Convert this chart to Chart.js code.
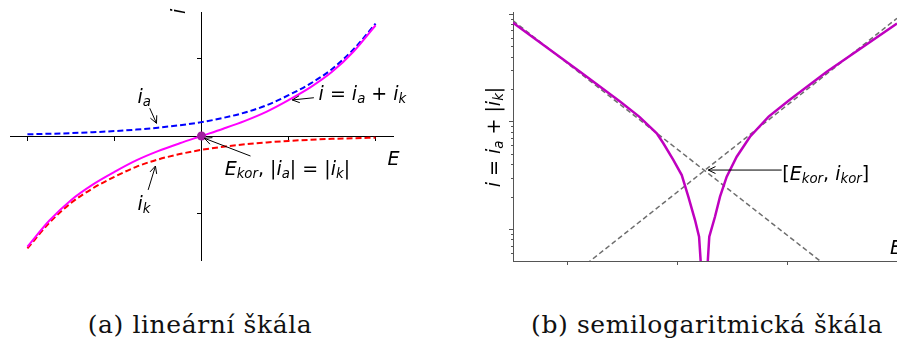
<!DOCTYPE html>
<html>
<head>
<meta charset="utf-8">
<script src="https://cdn.jsdelivr.net/npm/chart.js@4.4.1/dist/chart.umd.min.js"></script>
<style>
body { margin:0; background:#fff; width:897px; height:349px; position:relative; overflow:hidden; }
canvas { position:absolute; top:0; }
#linChart { left:0; }
#logChart { left:460px; }
.caption { position:absolute; top:312px; font-family:"DejaVu Serif"; font-size:25px; line-height:25px; letter-spacing:0.6px; color:#111; white-space:nowrap; text-align:center; }
</style>
</head>
<body>
<canvas id="linChart" width="440" height="300"></canvas>
<canvas id="logChart" width="437" height="300"></canvas>
<div class="caption" style="left:0;width:400px">(a) lineární škála</div>
<div class="caption" style="left:507px;width:400px">(b) semilogaritmická škála</div>
<script>
// (a) lineární škála
const linE = [-2, -1.75, -1.5, -1.25, -1, -0.75, -0.5, -0.25, 0, 0.25, 0.5, 0.75, 1, 1.25, 1.5, 1.75, 2]
const iAnodic = [0.022, 0.029, 0.037, 0.049, 0.064, 0.083, 0.108, 0.14, 0.18, 0.235, 0.305, 0.40, 0.53, 0.68, 0.87, 1.13, 1.46]
const iCathodic = [-1.46, -1.13, -0.87, -0.68, -0.53, -0.40, -0.305, -0.235, -0.18, -0.14, -0.108, -0.083, -0.064, -0.049, -0.037, -0.029, -0.022]
const iTotal = [-1.438, -1.101, -0.833, -0.631, -0.466, -0.317, -0.197, -0.095, 0, 0.095, 0.197, 0.317, 0.466, 0.631, 0.833, 1.101, 1.438]
const linXTicks = [-2, -1, 0, 1, 2]
const linYTicks = [-1, 0, 1]

// (b) semilogaritmická škála
const logELeft = [0, 0.611, 0.975, 1.15, 1.31, 1.37, 1.461, 1.538, 1.598, 1.659, 1.696, 1.711]
const logILeft = [0.835, 0.293, 0.155, 0.112, 0.0783, 0.0633, 0.0443, 0.0321, 0.0202, 0.01225, 0.00857, 0.005]
const logERight = [1.775, 1.789, 1.841, 1.887, 1.948, 2.039, 2.16, 2.33, 2.52, 2.86, 3.5]
const logIRight = [0.005, 0.00857, 0.01315, 0.0202, 0.031, 0.0475, 0.0728, 0.112, 0.16, 0.292, 0.82]
const tafelCathE = [0, 3.0]
const tafelCathI = [0.872, 0.00353]
const tafelAnE = [0.5, 3.5]
const tafelAnI = [0.0035, 0.918]
const logXTicks = [0.5, 1.5, 2.5, 3.5]
const logYMajor = [0.01, 0.1, 1]
const logYMinor = [0.006, 0.007, 0.008, 0.009, 0.02, 0.03, 0.04, 0.05, 0.06, 0.07, 0.08, 0.09, 0.2, 0.3, 0.4, 0.5, 0.6, 0.7, 0.8, 0.9]

const FS = 19

const pts = (xs, ys) => xs.map((x, i) => ({x: x, y: ys[i]}))
const setTicks = arr => s => { s.ticks = arr.map(v => ({value: v})) }

function drawMath(ctx, parts, x, y, size) {
	let cx = x
	for (const [t, st] of parts) {
		const fs = st === 'sub' ? size * 0.7 : size
		ctx.font = (st === 'rm' ? '' : 'italic ') + fs + 'px "DejaVu Sans"'
		ctx.fillText(t, cx, st === 'sub' ? y + size * 0.15 : y)
		cx += ctx.measureText(t).width
	}
	return cx - x
}
function mathWidth(ctx, parts, size) {
	let w = 0
	for (const [t, st] of parts) {
		const fs = st === 'sub' ? size * 0.7 : size
		ctx.font = (st === 'rm' ? '' : 'italic ') + fs + 'px "DejaVu Sans"'
		w += ctx.measureText(t).width
	}
	return w
}
function arrow(ctx, x1, y1, x2, y2) {
	const a = Math.atan2(y2 - y1, x2 - x1), h = 8, w = 0.45
	ctx.beginPath()
	ctx.moveTo(x1, y1); ctx.lineTo(x2, y2)
	ctx.moveTo(x2 - h * Math.cos(a - w), y2 - h * Math.sin(a - w))
	ctx.lineTo(x2, y2)
	ctx.lineTo(x2 - h * Math.cos(a + w), y2 - h * Math.sin(a + w))
	ctx.stroke()
}

// labels: text anchored at data coords (left, baseline), arrows from/to data coords
function labelPlugin(texts, arrows, rotated) {
	return {
		id: 'labels',
		afterDraw(chart) {
			const ctx = chart.ctx, sx = chart.scales.x, sy = chart.scales.y
			ctx.save()
			ctx.fillStyle = '#000'; ctx.strokeStyle = '#000'; ctx.lineWidth = 1
			ctx.textBaseline = 'alphabetic'; ctx.textAlign = 'left'
			texts.forEach(t => drawMath(ctx, t.parts, sx.getPixelForValue(t.x), sy.getPixelForValue(t.y), FS))
			arrows.forEach(a => arrow(ctx, sx.getPixelForValue(a[0]), sy.getPixelForValue(a[1]), sx.getPixelForValue(a[2]), sy.getPixelForValue(a[3])))
			rotated.forEach(t => {
				ctx.save()
				ctx.translate(sx.getPixelForValue(t.x), sy.getPixelForValue(t.y))
				ctx.rotate(-Math.PI / 2)
				const w = mathWidth(ctx, t.parts, FS)
				drawMath(ctx, t.parts, -w / 2, 6, FS)
				ctx.restore()
			})
			ctx.restore()
		}
	}
}

const axisStyle = (col, len) => ({ drawOnChartArea: false, tickLength: len, color: col, lineWidth: 1 })

let ctx1 = document.getElementById('linChart').getContext('2d')
var linChart = new Chart(ctx1, {
	type: 'line',
	data: {
		datasets: [{
			data: [{x: 0, y: 0}],
			showLine: false,
			pointRadius: 4.5,
			pointBackgroundColor: '#a0209f',
			pointBorderWidth: 0
		}, {
			data: pts(linE, iTotal),
			borderColor: '#ff00ff',
			borderWidth: 2,
			pointRadius: 0,
			cubicInterpolationMode: 'monotone'
		}, {
			data: pts(linE, iAnodic),
			borderColor: '#0000ff',
			borderWidth: 2,
			borderDash: [6, 3],
			pointRadius: 0,
			cubicInterpolationMode: 'monotone'
		}, {
			data: pts(linE, iCathodic),
			borderColor: '#ff0000',
			borderWidth: 2,
			borderDash: [6, 3],
			pointRadius: 0,
			cubicInterpolationMode: 'monotone'
		}]
	},
	options: {
		responsive: false,
		animation: false,
		events: [],
		layout: { padding: { left: 10, right: 47, top: 12, bottom: 40 } },
		plugins: { legend: { display: false }, tooltip: { enabled: false } },
		scales: {
			x: {
				type: 'linear', min: -2.2, max: 2.2, position: { y: 0 },
				afterBuildTicks: setTicks(linXTicks),
				ticks: { display: false },
				grid: axisStyle('#000', 4),
				border: { color: '#000', width: 1 }
			},
			y: {
				type: 'linear', min: -1.61, max: 1.61, position: { x: 0 },
				afterBuildTicks: setTicks(linYTicks),
				ticks: { display: false },
				grid: axisStyle('#000', 4),
				border: { color: '#000', width: 1 }
			}
		}
	},
	plugins: [labelPlugin([
		{ x: -0.736, y: 0.43, parts: [['i', 'it'], ['a', 'sub']] },
		{ x: -0.736, y: -0.96, parts: [['i', 'it'], ['k', 'sub']] },
		{ x: 1.345, y: 0.468, parts: [['i', 'it'], [' = ', 'rm'], ['i', 'it'], ['a', 'sub'], [' + ', 'rm'], ['i', 'it'], ['k', 'sub']] },
		{ x: 0.266, y: -0.506, parts: [['E', 'it'], ['kor', 'sub'], [', |', 'rm'], ['i', 'it'], ['a', 'sub'], ['| = |', 'rm'], ['i', 'it'], ['k', 'sub'], ['|', 'rm']] },
		{ x: 2.138, y: -0.377, parts: [['E', 'it']] }
	], [
		[-0.594, 0.36, -0.517, 0.165],
		[-0.613, -0.70, -0.529, -0.39],
		[1.291, 0.497, 1.043, 0.468],
		[0.563, -0.26, 0.034, -0.03]
	], [
		{ x: -0.264, y: 1.617, parts: [['i', 'it']] }
	])]
})

let ctx2 = document.getElementById('logChart').getContext('2d')
var logChart = new Chart(ctx2, {
	type: 'line',
	data: {
		datasets: [{
			data: pts(logELeft, logILeft),
			borderColor: '#bf00bf',
			borderWidth: 2.5,
			pointRadius: 0
		}, {
			data: pts(logERight, logIRight),
			borderColor: '#bf00bf',
			borderWidth: 2.5,
			pointRadius: 0
		}, {
			data: pts(tafelCathE, tafelCathI),
			borderColor: '#6e6e6e',
			borderWidth: 1.5,
			borderDash: [5, 3],
			pointRadius: 0
		}, {
			data: pts(tafelAnE, tafelAnI),
			borderColor: '#6e6e6e',
			borderWidth: 1.5,
			borderDash: [5, 3],
			pointRadius: 0
		}]
	},
	options: {
		responsive: false,
		animation: false,
		events: [],
		layout: { padding: { left: 49, right: 0, top: 12, bottom: 35 } },
		plugins: { legend: { display: false }, tooltip: { enabled: false } },
		scales: {
			x: {
				type: 'linear', min: 0, max: 3.5, position: 'bottom',
				afterBuildTicks: setTicks(logXTicks),
				ticks: { display: false },
				grid: axisStyle('#555', 4),
				border: { color: '#555', width: 1 }
			},
			y: {
				type: 'logarithmic', min: 0.0051, max: 1.05, position: 'left',
				afterBuildTicks: setTicks(logYMajor),
				ticks: { display: false },
				grid: axisStyle('#555', 4),
				border: { color: '#555', width: 1 }
			},
			yMinor: {
				axis: 'y', type: 'logarithmic', min: 0.0051, max: 1.05, position: { x: 0 },
				afterBuildTicks: setTicks(logYMinor),
				ticks: { display: false },
				grid: axisStyle('#555', 2),
				border: { display: false }
			}
		}
	},
	plugins: [labelPlugin([
		{ x: 2.455, y: 0.0288, parts: [['[', 'rm'], ['E', 'it'], ['kor', 'sub'], [', ', 'rm'], ['i', 'it'], ['kor', 'sub'], [']', 'rm']] },
		{ x: 3.437, y: 0.00593, parts: [['E', 'it']] }
	], [
		[2.449, 0.0357, 1.78, 0.0357]
	], [
		{ x: -0.17, y: 0.0724, parts: [['i', 'it'], [' = ', 'rm'], ['i', 'it'], ['a', 'sub'], [' + |', 'rm'], ['i', 'it'], ['k', 'sub'], ['|', 'rm']] }
	])]
})
</script>
</body>
</html>
